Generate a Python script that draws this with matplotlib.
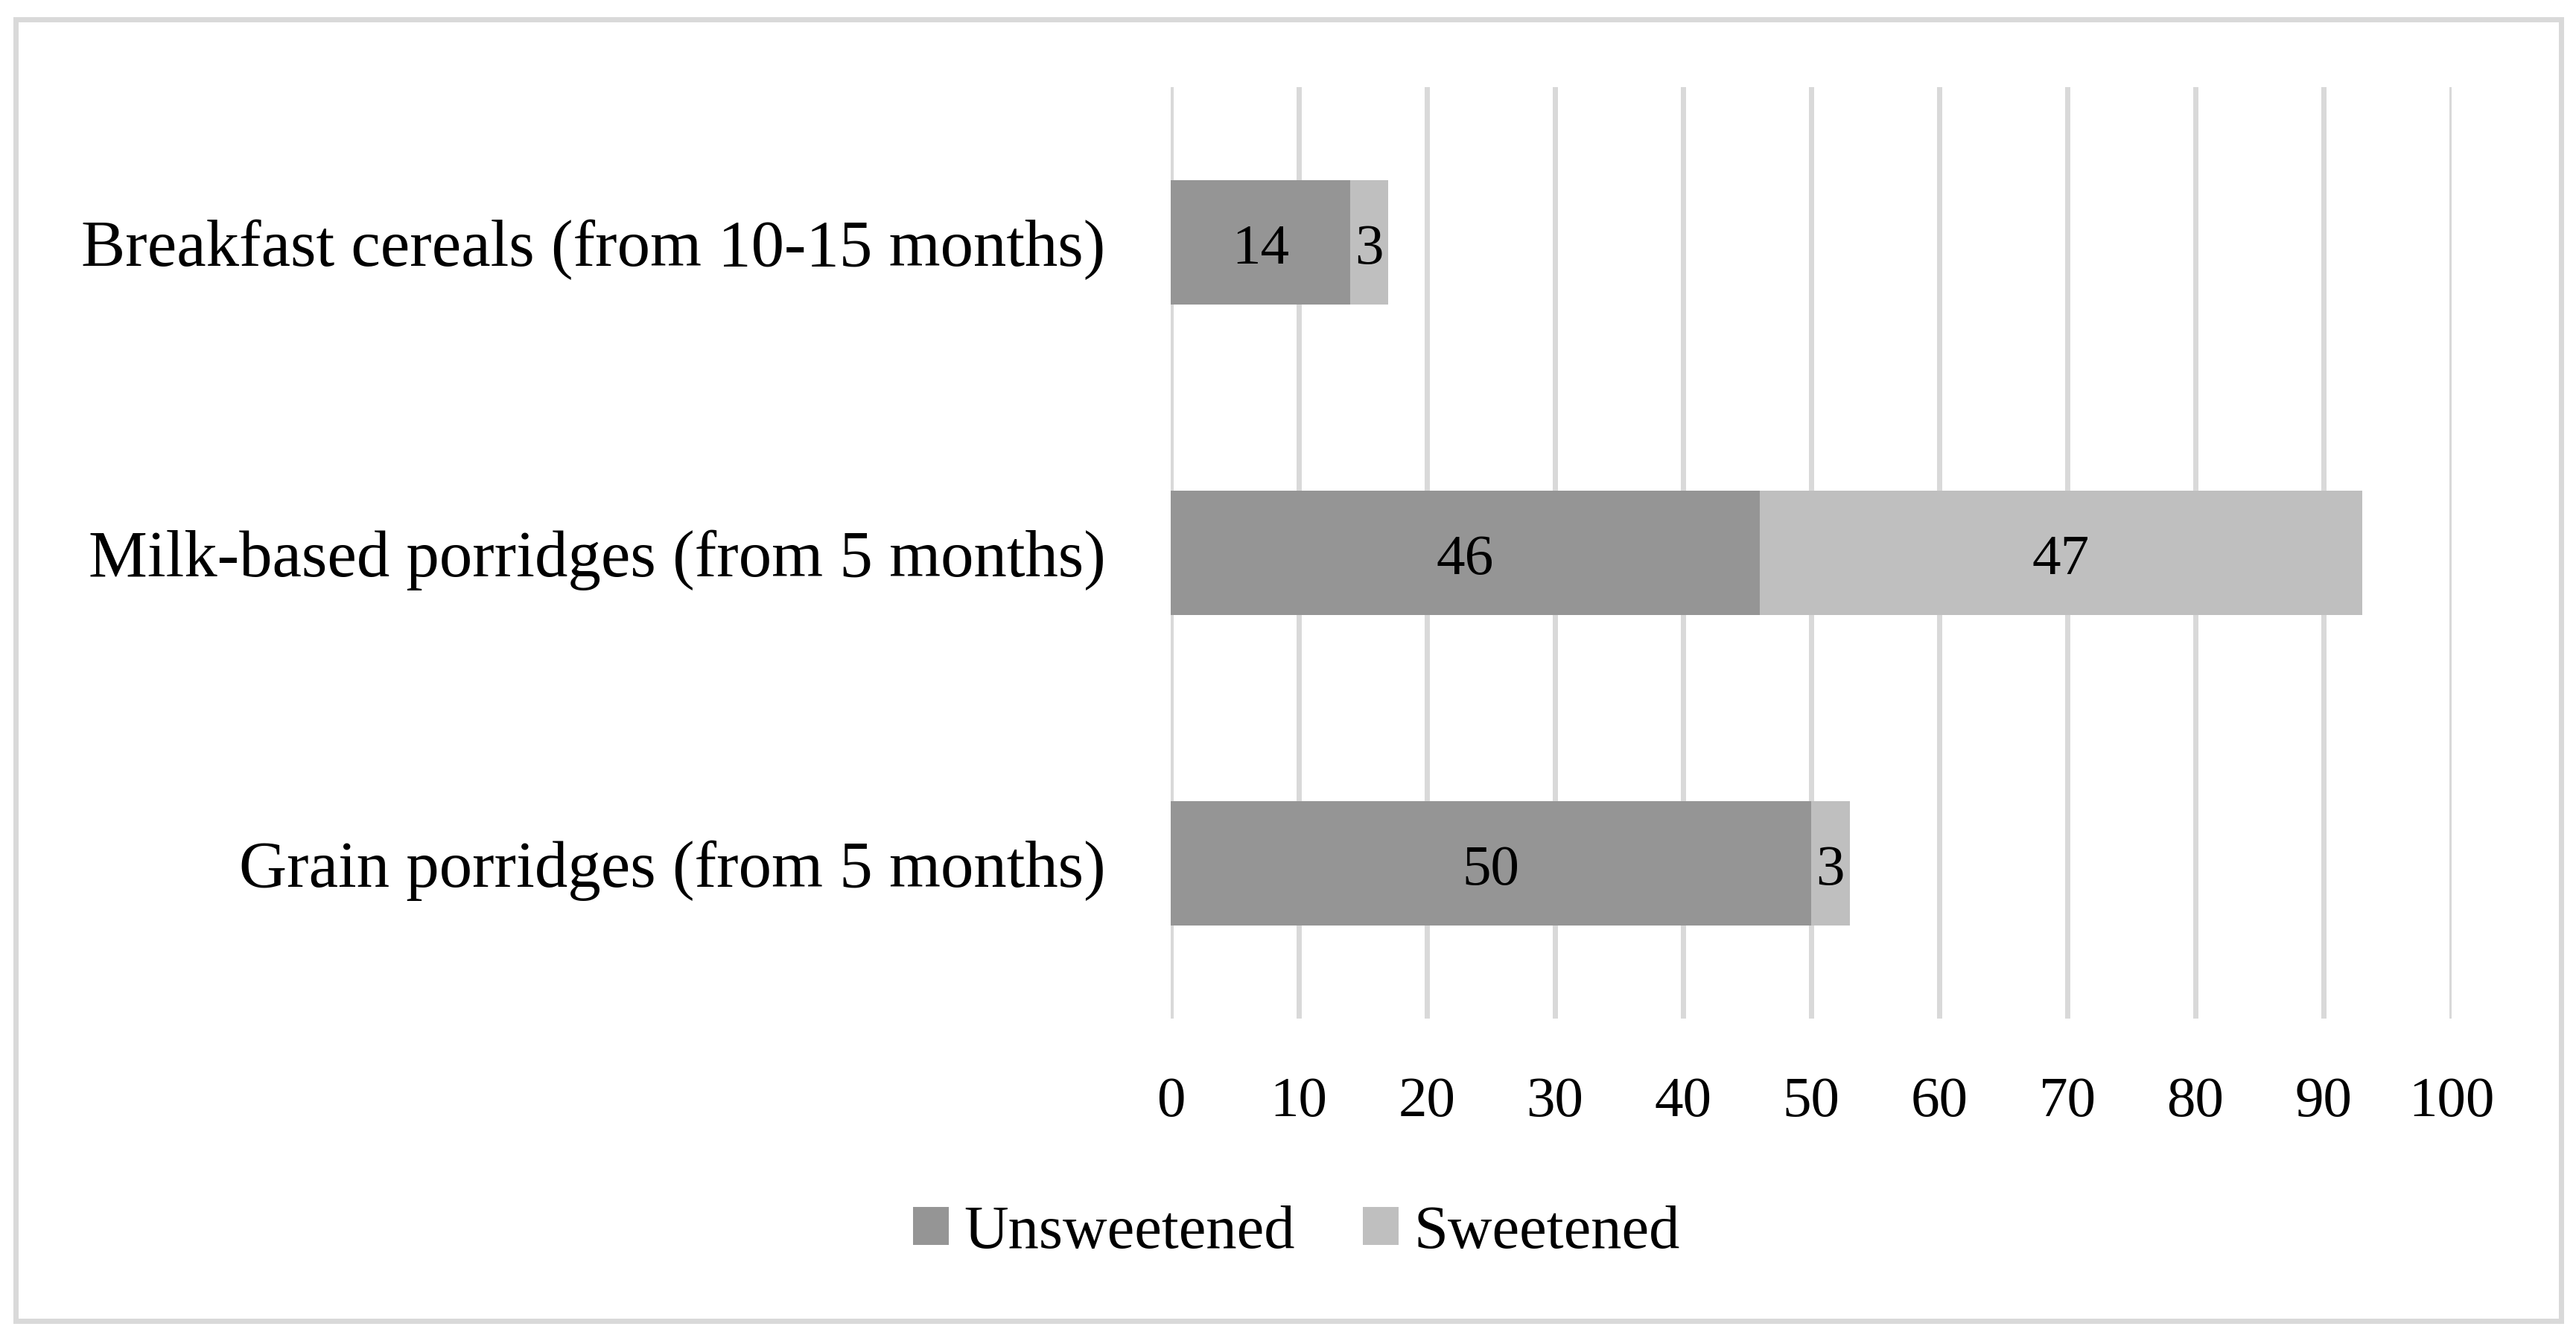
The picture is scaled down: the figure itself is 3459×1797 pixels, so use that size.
import matplotlib
matplotlib.use("Agg")
import matplotlib.pyplot as plt
from matplotlib.patches import Rectangle, Patch

categories = ["Breakfast cereals (from 10-15 months)",
              "Milk-based porridges (from 5 months)",
              "Grain porridges (from 5 months)"]
unsweetened = [14, 46, 50]
sweetened = [3, 47, 3]
series_names = ["Unsweetened", "Sweetened"]
xticks = [0, 10, 20, 30, 40, 50, 60, 70, 80, 90, 100]

c_dark = "#959595"
c_light = "#bfbfbf"
grid_c = "#d9d9d9"

plt.rcParams['font.family'] = ['Liberation Serif', 'DejaVu Serif']

W, H, DPI = 3459, 1797, 300
fig = plt.figure(figsize=(W / DPI, H / DPI), dpi=DPI)
fig.patch.set_facecolor("white")

# outer border
fig.patches.append(Rectangle((20.5 / W, 1 - 1774 / H), (3438.5 - 20.5) / W, (1774 - 26) / H,
                             transform=fig.transFigure, fill=False, edgecolor=grid_c,
                             linewidth=7 * 72 / DPI, zorder=0))

ax = fig.add_axes([1572 / W, 1 - 1368 / H, (3292 - 1572) / W, (1368 - 117) / H])
ypos = list(range(len(categories)))
ax.barh(ypos, unsweetened, height=0.4, color=c_dark, zorder=3)
ax.barh(ypos, sweetened, left=unsweetened, height=0.4, color=c_light, zorder=3)

dy = 0.025
for i, (u, s) in enumerate(zip(unsweetened, sweetened)):
    ax.text(u / 2, i + dy, str(u), ha="center", va="center", fontsize=18.5, color="black", zorder=4)
    ax.text(u + s / 2, i + dy, str(s), ha="center", va="center", fontsize=18.5, color="black", zorder=4)

ax.set_xlim(0, 100)
ax.set_ylim(2.5, -0.5)
ax.set_xticks(xticks)
ax.set_xticklabels([str(t) for t in xticks])
ax.set_yticks(ypos)
ax.set_yticklabels(categories)
for t in xticks:
    ax.axvline(t, color=grid_c, linewidth=7 * 72 / DPI, zorder=1)
for sp in ax.spines.values():
    sp.set_visible(False)
ax.tick_params(axis="x", length=0, pad=18.6, labelsize=18.5)
ax.tick_params(axis="y", length=0, pad=21, labelsize=21.3)

handles = [Patch(facecolor=c_dark, edgecolor="none"), Patch(facecolor=c_light, edgecolor="none")]
fig.legend(handles, series_names, loc="center left", bbox_to_anchor=(1226 / W, 1 - 1656 / H),
           ncol=2, frameon=False, fontsize=19.8, borderpad=0, borderaxespad=0,
           handlelength=0.58, handleheight=0.57, handletextpad=0.25, columnspacing=1.1)

fig.savefig("out.png", dpi=DPI, facecolor="white")
